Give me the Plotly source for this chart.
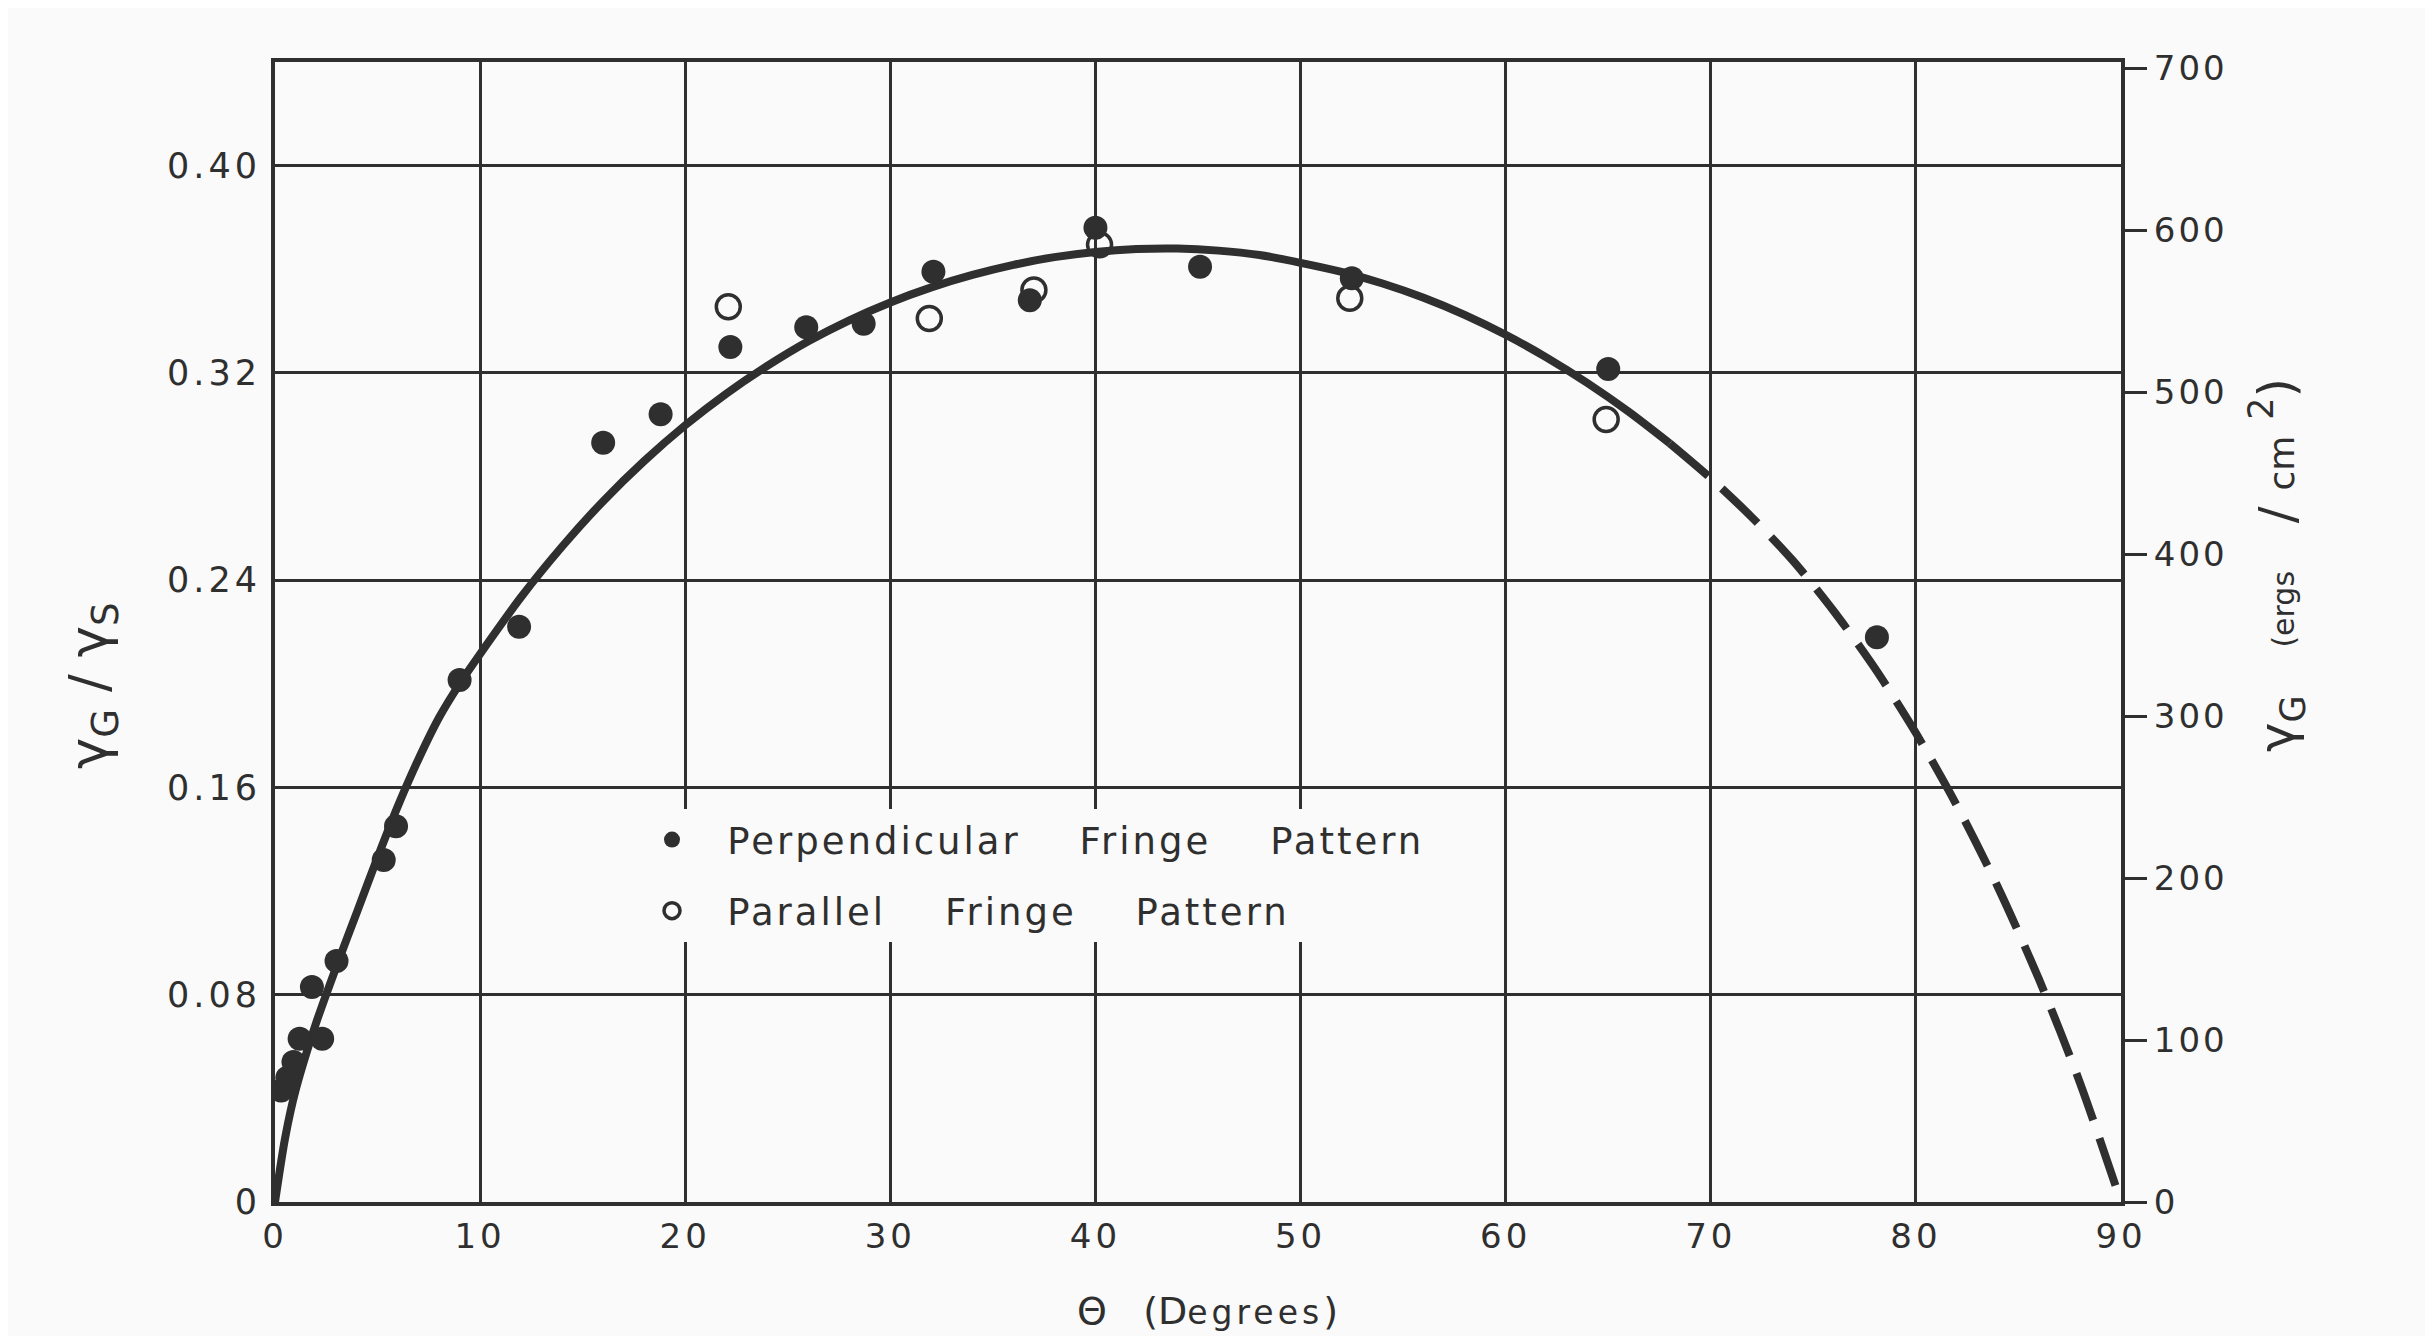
import plotly.graph_objects as go

# ---------------- data ----------------
# Perpendicular fringe pattern (filled circles): theta (deg), gamma_G/gamma_S
perp_theta = [0.3, 0.6, 0.9, 1.2, 2.3, 1.8, 3.0, 5.3, 5.9, 9.0, 11.9, 16.0, 18.8,
              22.2, 25.9, 28.7, 32.1, 36.8, 40.0, 45.1, 52.5, 65.0, 78.1]
perp_ratio = [0.043, 0.048, 0.054, 0.063, 0.063, 0.083, 0.093, 0.132, 0.145, 0.2015,
              0.222, 0.293, 0.304, 0.330, 0.3376, 0.339, 0.359, 0.348, 0.376, 0.361,
              0.3565, 0.3215, 0.218]

# Parallel fringe pattern (open circles)
par_theta = [22.1, 31.9, 37.0, 40.2, 52.4, 64.9]
par_ratio = [0.3455, 0.341, 0.352, 0.3695, 0.3488, 0.302]

# Fitted curve, solid part
fit_theta = [0, 0.5, 1, 2, 3, 4, 5, 6, 7, 8, 9, 10, 12, 14, 16, 18, 20, 22, 24, 26, 28,
             30, 32, 34, 36, 38, 40, 42, 44, 46, 48, 50, 52, 54, 56, 58, 60, 62, 64, 66, 68]
fit_ratio = [0, 0.025, 0.043, 0.069, 0.091, 0.112, 0.133, 0.153, 0.171, 0.187, 0.200,
             0.2115, 0.2335, 0.2530, 0.2705, 0.2860, 0.2998, 0.3120, 0.3227, 0.3322,
             0.3403, 0.3472, 0.3530, 0.3578, 0.3617, 0.3647, 0.3667, 0.3678, 0.3680,
             0.3672, 0.3655, 0.3625, 0.3590, 0.3545, 0.3490, 0.3424, 0.3347, 0.3259,
             0.3160, 0.3050, 0.2928]

# Fitted curve, dashed (extrapolated) part
ext_theta = [68, 70, 72, 74, 76, 78, 80, 82, 84, 86, 88, 90]
ext_ratio = [0.2928, 0.2793, 0.2643, 0.2476, 0.2280, 0.2060, 0.1810, 0.1530, 0.1215,
             0.0860, 0.0460, 0]

x_ticks = [0, 10, 20, 30, 40, 50, 60, 70, 80, 90]
y_ticks = [0, 0.08, 0.16, 0.24, 0.32, 0.40]
y_ticktext = ["0", "0.08", "0.16", "0.24", "0.32", "0.40"]
y2_ticks = [0, 100, 200, 300, 400, 500, 600, 700]
GAMMA_S = 1600  # ergs/cm^2, scale between left and right axes

Y_MAX = 0.44

INK = "#2f2f2f"
BG = "#fafafa"
FONT = "DejaVu Sans"
NB = "\u00a0"


def spaced(s, ls=3):
    return f"<span style='letter-spacing:{ls}px'>{s}</span>"


fig = go.Figure()

fig.add_trace(go.Scatter(x=fit_theta, y=fit_ratio, mode="lines",
                         line=dict(color=INK, width=8, shape="spline", smoothing=0.8),
                         showlegend=False, hoverinfo="skip"))
fig.add_trace(go.Scatter(x=ext_theta, y=ext_ratio, mode="lines",
                         line=dict(color=INK, width=8, shape="spline", smoothing=0.8,
                                   dash="50px,19px"),
                         showlegend=False, hoverinfo="skip"))

fig.add_trace(go.Scatter(x=perp_theta, y=perp_ratio, mode="markers",
                         name=NB * 3 + spaced("Perpendicular") + NB * 5 + spaced("Fringe")
                         + NB * 5 + spaced("Pattern"),
                         legendgroup="a",
                         marker=dict(symbol="circle", size=24, color=INK,
                                     line=dict(width=0))))
fig.add_trace(go.Scatter(x=par_theta, y=par_ratio, mode="markers",
                         name=NB * 3 + spaced("Parallel") + NB * 5 + spaced("Fringe")
                         + NB * 5 + spaced("Pattern"),
                         legendgroup="b",
                         marker=dict(symbol="circle-open", size=24, color=INK,
                                     line=dict(width=3.5, color=INK))))

# invisible trace to carry the right-hand axis
fig.add_trace(go.Scatter(x=[0, 90], y=[0, Y_MAX * GAMMA_S], yaxis="y2", mode="markers",
                         marker=dict(opacity=0), showlegend=False, hoverinfo="skip"))

# page has an 8px body margin: work in page pixels and shift
OFF = 8
W, H = 2433 - OFF, 1336 - OFF
L, R, T, B = 275 - OFF, 2121 - OFF, 62 - OFF, 1202 - OFF


def px(x):
    return (x - OFF - L) / (R - L)


def py(y):
    return (B - (y - OFF)) / (B - T)


fig.update_layout(
    width=W, height=H,
    margin=dict(l=L, r=W - R, t=T, b=H - B),
    paper_bgcolor=BG, plot_bgcolor=BG,
    font=dict(family=FONT, color=INK, size=34),
    xaxis=dict(range=[0, 90], tickvals=x_ticks,
               ticktext=[spaced(str(v), 4) for v in x_ticks],
               showgrid=True, gridcolor=INK, gridwidth=2.5,
               showline=True, linecolor=INK, linewidth=4, mirror=True, zeroline=False,
               ticks="", ticklabelstandoff=1, tickfont=dict(size=34)),
    yaxis=dict(range=[0, Y_MAX], tickvals=y_ticks,
               ticktext=[spaced(t, 4) for t in y_ticktext], showgrid=True,
               gridcolor=INK, gridwidth=2.5, showline=True, linecolor=INK, linewidth=4,
               mirror=True, zeroline=False, ticks="", ticklabelstandoff=3,
               tickfont=dict(size=35)),
    yaxis2=dict(range=[0, Y_MAX * GAMMA_S], tickvals=y2_ticks,
                ticktext=[spaced(str(v), 3) for v in y2_ticks],
                overlaying="y", side="right",
                showgrid=False, zeroline=False, showline=True, linecolor=INK, linewidth=4,
                ticks="outside", ticklen=22, tickwidth=3, tickcolor=INK,
                tickfont=dict(size=34)),
    legend=dict(x=px(652), y=py(809), xanchor="left", yanchor="top",
                bgcolor=BG, borderwidth=0, font=dict(size=37, color=INK),
                tracegroupgap=20, itemsizing="trace"),
    annotations=[
        dict(text="\u03b3<sub>G</sub>" + NB + "/" + NB + "\u03b3<sub>S</sub>",
             x=px(93), y=py(686), xref="paper", yref="paper", textangle=-90,
             xanchor="center", yanchor="middle", showarrow=False,
             font=dict(size=53, color=INK)),
        dict(text="\u03b3<sub>G</sub>" + NB * 3 + "<span style='font-size:30px'>(ergs</span>"
                  + NB * 3 + "/" + NB + "<span style='font-size:36px'>cm</span>"
                  + NB + "<sup>2</sup>)",
             x=px(2277), y=py(565), xref="paper", yref="paper", textangle=-90,
             xanchor="center", yanchor="middle", showarrow=False,
             font=dict(size=50, color=INK)),
        dict(text="\u0398" + NB * 3 + "(D" + spaced("<span style='font-size:33px'>egrees</span>", 4) + ")",
             x=px(1207), y=py(1311), xref="paper", yref="paper",
             xanchor="center", yanchor="middle", showarrow=False,
             font=dict(size=38, color=INK)),
    ],
)

fig.write_html("out.html")
